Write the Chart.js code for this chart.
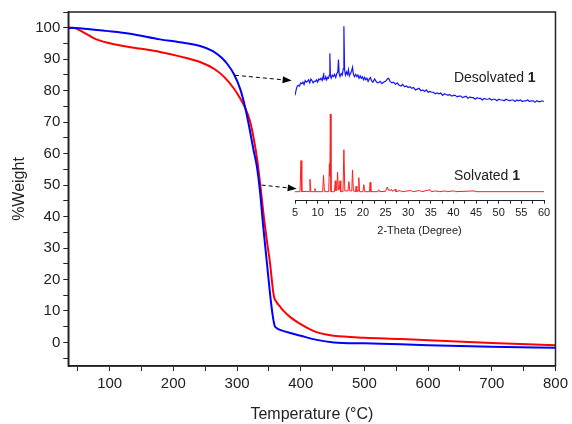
<!DOCTYPE html>
<html>
<head>
<meta charset="utf-8">
<script src="https://cdn.jsdelivr.net/npm/chart.js@4.4.0/dist/chart.umd.min.js"></script>
<style>
  body { margin: 0; background: #fff; }
  #wrap { position: relative; width: 572px; height: 424px; }
  #tga { position: absolute; left: 0; top: 0; }
  #xrd { position: absolute; left: 285px; top: 15px; }
</style>
</head>
<body>
<div id="wrap">
  <canvas id="tga" width="572" height="424"></canvas>
  <canvas id="xrd" width="280" height="226"></canvas>
</div>
<script>
// TGA curves (temperature in C, weight %)
const blueTemp = [35, 60, 94, 132, 179, 210, 242, 262, 275, 285, 295, 305, 313, 320, 326, 331, 336, 341, 347, 352, 356, 359, 362, 370, 385, 400, 425, 452, 500, 557, 600, 700, 800];
const blueWeight = [100, 99.7, 99.0, 98.1, 96.3, 95.4, 94.2, 92.6, 90.6, 88.4, 85.3, 80.5, 74.4, 67.5, 61, 56, 48, 37, 25, 15, 8.5, 5.3, 4.6, 3.8, 2.9, 2.1, 0.8, 0, -0.3, -0.6, -0.9, -1.4, -1.7];
const redTemp = [35, 43, 50, 58, 66, 74, 85, 95, 121, 150, 179, 210, 242, 265, 280, 295, 305, 313, 320, 326, 332, 337, 342, 347, 352, 355, 358, 362, 367, 373, 385, 400, 413, 426, 440, 452, 500, 557, 600, 700, 800];
const redWeight = [100, 100, 99.5, 98.6, 97.7, 96.8, 95.9, 95.3, 94.2, 93.3, 92.3, 90.9, 89.1, 86.8, 84.3, 80.7, 77.5, 74.4, 70.5, 65, 57.5, 49, 40, 32, 24.8, 19, 14.5, 12.8, 11.5, 10, 7.8, 5.8, 4.3, 3.2, 2.5, 2.1, 1.5, 1.1, 0.7, -0.2, -0.9];

// inset PXRD patterns (2-theta, intensity, arbitrary units)
const solvTheta = [5, 6.1, 6.33, 6.5, 7.5, 8.1, 8.31, 8.5, 9.25, 9.4, 9.55, 11.1, 11.3, 11.5, 12.45, 12.6, 12.7, 12.8, 12.95, 13.7, 13.9, 14.05, 14.25, 14.4, 14.6, 14.8, 14.95, 15.1, 15.6, 15.8, 16.0, 16.7, 16.9, 17.1, 17.55, 17.7, 17.9, 18.35, 18.5, 18.65, 18.95, 19.1, 19.25, 20.0, 20.2, 20.4, 21.45, 21.6, 21.75, 23.3, 23.5, 23.7, 25.0, 25.4, 25.6, 25.8, 26.0, 26.3, 26.5, 27.1, 27.3, 28.2, 28.5, 30.6, 31, 32.5, 33, 34.8, 35.1, 36, 37, 38.2, 38.6, 40, 40.5, 44.5, 45, 60];
const solvInt = [0, 0, 40, 0, 0.5, 0, 16, 0, 0, 4, 0, 0, 21, 0, 0, 36, 20, 100, 0, 0, 14, 1, 2, 25, 2, 3, 14, 0, 0, 54, 1, 1, 13, 1, 1, 28, 1, 0, 7, 0, 1, 18, 0, 0, 9, 0, 0, 12, 0, 0, 2.5, 0, 0.5, 6, 2, 3, 1, 3, 0.5, 3, 0, 1.5, 0, 1.5, 0, 1.5, 0, 2.5, 0, 1, 0, 1, 0, 1, 0, 1, 0, 0];
const desolvTheta = [5.0, 5.25, 5.5, 5.75, 6.0, 6.25, 6.5, 6.75, 7.0, 7.25, 7.5, 7.75, 8.0, 8.25, 8.5, 8.75, 9.0, 9.25, 9.5, 9.75, 10.0, 10.25, 10.5, 10.75, 11.0, 11.2, 11.3, 11.4, 11.6, 11.8, 12.0, 12.2, 12.4, 12.58, 12.7, 12.82, 13.0, 13.25, 13.5, 13.75, 14.0, 14.25, 14.45, 14.6, 14.75, 14.95, 15.2, 15.45, 15.65, 15.8, 15.95, 16.15, 16.4, 16.6, 16.8, 17.0, 17.25, 17.5, 17.7, 17.9, 18.15, 18.4, 18.65, 18.9, 19.15, 19.4, 19.65, 19.9, 20.15, 20.4, 20.65, 20.9, 21.15, 21.4, 21.65, 21.9,
  22.2, 22.6, 23.0, 23.4, 23.8, 24.2, 24.6, 25.0, 25.4, 25.7, 26.0, 26.4, 26.8, 27.2, 27.6, 28.0, 28.4, 28.8, 29.2, 29.6, 30.0, 30.4, 30.8, 31.2, 31.6, 32.0, 32.4, 32.8, 33.2, 33.6, 34.0, 34.4, 34.8, 35.2, 35.6, 36.0, 36.4, 36.8, 37.2, 37.6, 38.0, 38.4, 38.8, 39.2, 39.6, 40.0, 40.4, 40.8, 41.2, 41.6, 42.0, 42.4, 42.8, 43.2, 43.6, 44.0, 44.4, 44.8, 45.2, 45.6, 46.0, 46.4, 46.8, 47.2, 47.6, 48.0, 48.4, 48.8, 49.2, 49.6, 50.0, 50.4, 50.8, 51.2, 51.6, 52.0, 52.4, 52.8, 53.2, 53.6, 54.0, 54.4, 54.8, 55.2, 55.6, 56.0, 56.4, 56.8, 57.2, 57.6, 58.0, 58.4, 58.8, 59.2, 59.6, 60.0];
const desolvInt = [124, 131, 136, 137, 136, 140, 139, 141, 138, 143, 141, 142, 144, 140, 145, 143, 140, 142, 142, 144, 141, 145, 144, 146, 143, 148, 153, 146, 145, 148, 144, 147, 146, 150, 178, 149, 146, 150, 148, 151, 147, 152, 154, 170, 152, 148, 152, 150, 158, 213, 157, 150, 154, 151, 157, 149, 152, 155, 160, 151, 148, 151, 148, 150, 146, 149, 146, 148, 144, 147, 144, 146, 142, 145, 147, 143,
  141, 145, 141, 140, 142, 139, 141, 142, 145, 146, 142, 140, 141, 138, 140, 137, 136, 138, 135, 136, 134, 135, 133, 134, 131, 132, 133, 130, 131, 129, 131, 128, 129, 128, 128, 126, 127, 126, 127, 124, 126, 125, 124, 125, 123, 124, 124, 122, 123, 123, 121, 122, 123, 120, 122, 121, 121, 119, 121, 120, 120, 118, 120, 119, 119, 120, 118, 119, 119, 117, 119, 118, 118, 117, 119, 118, 117, 118, 118, 116, 118, 117, 118, 116, 117, 117, 118, 116, 117, 117, 115, 117, 116, 116, 117, 116];

// dashed arrows, in TGA data coordinates
const arrowFrom = [[296.7, 84.9], [338.6, 50.0]];
const arrowTo = [[385.7, 83.2], [393.6, 48.8]];

const FONT = "'Liberation Sans', Arial, Helvetica, sans-serif";
const AXIS = '#222';
Chart.defaults.font.family = FONT;
Chart.defaults.color = AXIS;

function pts(xs, ys) {
  return xs.map((x, i) => ({ x: x, y: ys[i] }));
}

const tgaDecor = {
  id: 'tgaDecor',
  afterDraw(chart) {
    const ctx = chart.ctx;
    const a = chart.chartArea;
    ctx.save();
    ctx.strokeStyle = AXIS;
    ctx.lineWidth = 1.5;
    ctx.strokeRect(a.left, a.top, a.right - a.left, a.bottom - a.top);
    // arrows
    const xs = chart.scales.x, ys = chart.scales.y;
    ctx.strokeStyle = '#000';
    ctx.fillStyle = '#000';
    ctx.lineWidth = 1;
    for (let i = 0; i < arrowFrom.length; i++) {
      const x1 = xs.getPixelForValue(arrowFrom[i][0]), y1 = ys.getPixelForValue(arrowFrom[i][1]);
      const x2 = xs.getPixelForValue(arrowTo[i][0]), y2 = ys.getPixelForValue(arrowTo[i][1]);
      const ang = Math.atan2(y2 - y1, x2 - x1);
      ctx.setLineDash([4, 3]);
      ctx.beginPath();
      ctx.moveTo(x1, y1);
      ctx.lineTo(x2 - 8 * Math.cos(ang), y2 - 8 * Math.sin(ang));
      ctx.stroke();
      ctx.setLineDash([]);
      ctx.beginPath();
      ctx.moveTo(x2, y2);
      ctx.lineTo(x2 - 9 * Math.cos(ang) + 3.5 * Math.sin(ang), y2 - 9 * Math.sin(ang) - 3.5 * Math.cos(ang));
      ctx.lineTo(x2 - 9 * Math.cos(ang) - 3.5 * Math.sin(ang), y2 - 9 * Math.sin(ang) + 3.5 * Math.cos(ang));
      ctx.closePath();
      ctx.fill();
    }
    ctx.restore();
  }
};

new Chart(document.getElementById('tga'), {
  type: 'line',
  data: {
    datasets: [
      { data: pts(blueTemp, blueWeight), borderColor: '#0000ff', borderWidth: 2, pointRadius: 0, cubicInterpolationMode: 'monotone' },
      { data: pts(redTemp, redWeight), borderColor: '#ff0000', borderWidth: 2, pointRadius: 0, cubicInterpolationMode: 'monotone' }
    ]
  },
  options: {
    responsive: false,
    animation: false,
    layout: { padding: { top: 10, right: 16, left: 0, bottom: 0 } },
    plugins: { legend: { display: false }, tooltip: { enabled: false } },
    scales: {
      x: {
        type: 'linear', min: 35, max: 800,
        afterFit: s => { s.height = 58; },
        grid: { drawOnChartArea: false, tickLength: 5, color: AXIS, lineWidth: 1 },
        border: { color: AXIS, width: 1.5 },
        ticks: { stepSize: 50, includeBounds: false, autoSkip: false, maxRotation: 0, padding: 4, font: { size: 15 },
          callback: v => (v % 100 === 0 ? v : '') },
        title: { display: true, text: 'Temperature (°C)', font: { size: 16 }, padding: { top: 0, bottom: 0 } }
      },
      y: {
        min: -7.5, max: 105,
        afterFit: s => { s.width = 68.3; },
        grid: { drawOnChartArea: false, tickLength: 5, color: AXIS, lineWidth: 1 },
        border: { color: AXIS, width: 1.5 },
        ticks: { stepSize: 5, includeBounds: false, autoSkip: false, padding: 3, font: { size: 15 },
          callback: v => (v % 10 === 0 ? v : '') },
        title: { display: true, text: '%Weight', font: { size: 16 }, padding: { top: 10, bottom: 0 } }
      }
    }
  },
  plugins: [tgaDecor]
});

const xrdLabels = {
  id: 'xrdLabels',
  afterDraw(chart) {
    const ctx = chart.ctx;
    const xs = chart.scales.x, ys = chart.scales.y;
    const items = [['Desolvated ', 146.7], ['Solvated ', 20.2]];
    ctx.save();
    ctx.fillStyle = AXIS;
    ctx.textBaseline = 'middle';
    items.forEach(it => {
      const x = xs.getPixelForValue(40.1), y = ys.getPixelForValue(it[1]);
      ctx.font = '14px ' + FONT;
      ctx.fillText(it[0], x, y);
      const w = ctx.measureText(it[0]).width;
      ctx.font = 'bold 14px ' + FONT;
      ctx.fillText('1', x + w, y);
    });
    ctx.restore();
  }
};

new Chart(document.getElementById('xrd'), {
  type: 'line',
  data: {
    datasets: [
      { data: pts(desolvTheta, desolvInt), borderColor: '#1414ff', borderWidth: 1.2, pointRadius: 0, tension: 0 },
      { data: pts(solvTheta, solvInt), borderColor: '#ff1e1e', borderWidth: 1, pointRadius: 0, tension: 0 }
    ]
  },
  options: {
    responsive: false,
    animation: false,
    layout: { padding: { top: 0, right: 21, left: 10, bottom: 0 } },
    plugins: { legend: { display: false }, tooltip: { enabled: false } },
    scales: {
      x: {
        type: 'linear', min: 5, max: 60,
        afterFit: s => { s.height = 40.3; },
        grid: { drawOnChartArea: false, tickLength: 3, color: AXIS, lineWidth: 1 },
        border: { color: AXIS, width: 1 },
        ticks: { stepSize: 2.5, includeBounds: false, autoSkip: false, maxRotation: 0, padding: 3, font: { size: 11 },
          callback: v => (v % 5 === 0 ? v : '') },
        title: { display: true, text: '2-Theta (Degree)', font: { size: 11 }, padding: { top: 0, bottom: 3 } }
      },
      y: { display: false, min: -11.6, max: 227.4 }
    }
  },
  plugins: [xrdLabels]
});
</script>
</body>
</html>
